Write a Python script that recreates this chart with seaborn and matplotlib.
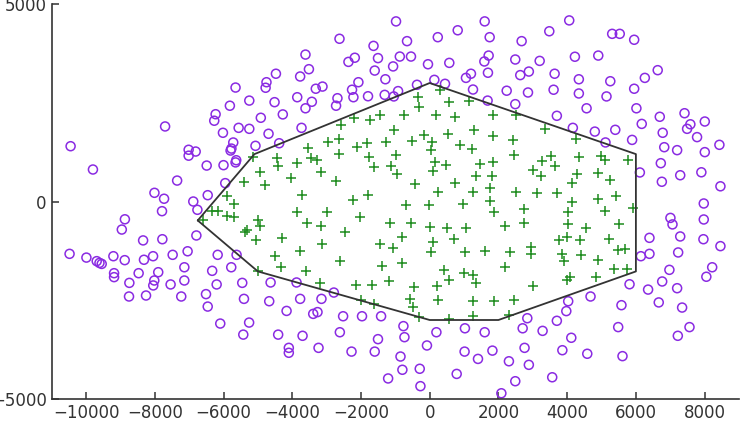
import numpy as np
import pandas as pd
import seaborn as sns
import matplotlib
matplotlib.use("Agg")
import matplotlib.pyplot as plt

# =============================
# Data
# =============================
# points outside the polygon
circle_x = [
    -10450, -9800, -7700, -7350, -8010, -7730, -7790, -8870, -6880, -6760,
    -6460, -6490, -7015, -7015, -6810, -6000, -5950, -5650, -5630, -5795,
    -5770, -5717, -6017, -5560, -6270, -6230, -5815, -5650, -5250, -5250,
    -8960, -8340, -7780, -6790, -10480, -9990, -9690, -9610, -9545, -9205,
    -8875, -8315, -8050, -7480, -7045, -6170, -5620, -5775, -6330, -7140,
    -7900, -8470, -9185, -9185, -8740, -8015, -8045, -7540, -7140, -6200,
    -5455, -8750, -8255, -7230, -6510, -6460, -5405, -6095, -5255, -5425,
    -980, -2625, -3615, -3515, -4475, -4750, -4775, -3770, -4515, -4915,
    -4275, -4690, -5070, -4380, -3855, -3430, -3615, -3315, -3120, -3730,
    -2685, -2725, -2365, -2180, -2260, -2220, -2075, -1795, -1635, -1505,
    -1600, -1290, -1065, -1310, -1045, -920, -870, -660, -545, -370,
    -50, 135, 445, 235, 570, 815, 1055, 1200, 1260, 1590,
    1695, 1600, 1745, 1715, 1685,
    2675, 3480, 4060, 2490, 3200, 2635, 2885, 2240, 2860, 2490,
    3635, 3605, 4225, 4340, 4340, 4905, 5255, 5145, 4565, 3700,
    4165, 4805, 5400, 5115, 5890, 5310, 5530, 5950, 6635, 6260,
    5950, 6015, 6170, 6695, 6780, 6825, 7200, 7415, 7585, 7490,
    8005, 7780, 8005, 8430, 6725, 6755, 7290, 7905, 8460, 6115,
    7975,
    7005, 7065, 7975, 7965, 8460, 7290, 6395, 6395, 6145, 7230,
    8220, 8050, 6975, 6765, 6355, 7200, 6665, 7345, 7560, 7220,
    5815, 5580, 5485, 5610, 4680, 4030, 3975, 3700, 4120, 3860,
    4585, 3285, 2840, 2705, 2760, 2885, 3565, 2305, 1825, 2490,
    2085,
    -4630, -4670, -3875, -3770, -4165, -3150, -2790, -3390, -3265, -2520,
    -1970, -1415, -4410, -3700, -2615, -4100, -4100, -3235, -2275, -1600,
    -1505, -765, -735, -850, -795, -290, -1210, -270, -80, 195,
    1025, 1600, 1015, 1405, 785,
]
circle_y = [
    1400, 810, 1900, 530, 220, 70, -245, -450, 0, -210,
    160, 910, 1310, 1160, 1265, 920, 465, 990, 1045, 1290,
    1340, 1494, 1740, 1865, 2045, 2210, 2425, 2885, 2555, 1840,
    -710, -985, -955, -860, -1325, -1420, -1510, -1555, -1580, -1385,
    -1485, -1475, -1385, -1350, -1260, -1350, -1350, -1665, -1755, -1665,
    -1790, -1815, -1815, -1915, -2060, -2000, -2125, -2100, -2000, -2100,
    -2060, -2405, -2380, -2405, -2345, -2660, -2465, -3090, -3065, -3370,
    4560, 4120, 3720, 3350, 3235, 3020, 2880, 3165, 2515, 2120,
    2205, 1715, 1410, 1475, 2640, 2525, 2360, 2855, 2910, 1865,
    2615, 2425, 3535, 3640, 2830, 2640, 3020, 2665, 3940, 3630,
    3315, 3095, 3420, 2700, 2660, 2795, 3670, 4060, 3670, 2955,
    3475, 3080, 2980, 4160, 3510, 4335, 3130, 3235, 2835, 3545,
    3260, 4560, 4160, 3695, 2555,
    4060, 4310, 4585, 3595, 3560, 3200, 3290, 2805, 2760, 2465,
    3235, 2830, 3665, 3095, 2735, 3695, 3045, 2660, 2360, 2170,
    1865, 1770, 1815, 1495, 1560, 4245, 4245, 4095, 3325, 3130,
    2855, 2360, 1965, 2145, 1740, 1375, 1300, 2235, 1955, 1840,
    2025, 1630, 1250, 1435, 970, 500, 665, 740, 385, 735,
    -50,
    -415, -580, -455, -955, -1130, -885, -920, -1325, -1385, -1290,
    -1665, -1905, -1730, -2025, -2230, -2195, -2555, -2685, -3180, -3400,
    -2095, -2625, -3180, -3915, -2405, -2525, -2775, -3020, -3450, -3765,
    -3855, -3275, -2955, -3210, -3705, -4135, -4450, -4045, -3775, -4550,
    -4855,
    -2050, -2525, -2050, -2465, -2770, -2465, -2305, -2845, -2800, -2905,
    -2905, -2905, -3370, -3400, -3310, -3705, -3830, -3705, -3800, -3800,
    -3485, -3155, -3435, -3925, -4260, -4235, -4480, -4675, -3645, -3310,
    -3210, -3310, -3800, -3985, -4365,
]

# points inside the polygon
plus_x = [
    -2567, -2645, -2974, -3538, -2645, -3459, -3294, -4456, -4427, -5137,
    -3875, -3169, -4942, -4041, -5398, -4797, -2733, -3712, -5910, -5689,
    -2209, -1724, -1454, -2113, -1811, -1765, -1628, -1259, -1047, -988,
    -1113, -951, -747, -340, -320, -503, -174, 78, 49, 145,
    96, 465, 195, 291, 561, 727, 532, 872, 1241, 1288,
    1142, 1840, 1840, 1454, 1358, 1802, 1840, -436, 241, 727,
    1259, 1744, 1744, 968, -20, -677, -1794, -2230, -3875, -2986,
    -2035, -4991, 1860,
    2520, 3343, 2427, 4244, 2456, 3265, 3538, 3634, 3015, 3236,
    4352, 4991, 5087, 5765, 4273, 4128, 4893, 5233, 5427, 4893,
    4154, 2500, 3110, 3692, 4020, 5087, 5910, 2733,
    2180, 2733, 4012, 4555, 5494, 3750, 3983, 4361, 5204, 1599,
    2340, 2951, 2951, 3852, 3910, 4410, 4904, 5474, 5683, 2180,
    5363, 5733, 3983, 4093, 4840, 3015, 1866, 2456, 2302,
    -1163, -552, 0, 509, 1067, -2471, -794, -1445, -1076, 108,
    703, 49, 1038, -2616, -1375, -820, 416, 561, 1009, 1259,
    1337, -2151, -1680, -1192, -445, 224, -581, -474, 233, 1270,
    -1985, -1608, -311, 561, 1259,
    -6346, -6172, -6590, -5910, -5683, -4942, -5378, -5320, -5067, -4294,
    -3581, -3154, -3148, -3773, -4506, -4323, -3605, -5000, -3198,
]
plus_y = [
    1932, 1577, 1494, 1360, 1215, 1089, 1063, 1106, 904, 1122,
    980, 752, 752, 600, 499, 430, 514, 160, 144, -51,
    2119, 2076, 2195, 1375, 1486, 1139, 868, 1519, 1823, 1165,
    894, 701, 2178, 2641, 2405, 1527, 1689, 1501, 1309, 995,
    785, 929, 2195, 2811, 2514, 2134, 1714, 1443, 1334, 1815,
    2532, 2195, 1671, 955, 658, 658, 995, 448, 253, 463,
    253, 342, 25, -58, -84, -101, 170, 43, -261, -261,
    -380, -456, -266,
    2190, 1848, 1545, 1583, 1177, 1038, 1147, 904, 798, 653,
    1139, 1160, 1058, 1051, 684, 461, 727, 532, 139, 76,
    -20, 248, 210, 210, -271, -246, -160, -185,
    -608, -549, -582, -666, -582, -987, -886, -962, -955, -1258,
    -1291, -1157, -1324, -1334, -1512, -1342, -1486, -1233, -1208, -1664,
    -1704, -1704, -1975, -1917, -1917, -2127, -2524, -2499, -2879,
    -549, -549, -633, -666, -666, -777, -886, -1071, -1165, -1013,
    -950, -1291, -1284, -1501, -1633, -1557, -1739, -1983, -1798, -1853,
    -2064, -2102, -2102, -2021, -2170, -2127, -2464, -2676, -2499, -2514,
    -2489, -2590, -2912, -2975, -2904,
    -246, -246, -468, -367, -387, -608, -777, -717, -987, -919,
    -549, -608, -1071, -1258, -1372, -1664, -1760, -1747, -2051,
]

# polygon (closed)
hull_x = [-6750, -5100, 0, 6000, 6000, 2000, 0, -5000, -6750]
hull_y = [-480, 1200, 3000, 1200, -1770, -3000, -3000, -1770, -480]

x_ticks = [-10000, -8000, -6000, -4000, -2000, 0, 2000, 4000, 6000, 8000]
y_ticks = [-5000, 0, 5000]

outside = pd.DataFrame({"x": circle_x, "y": circle_y})
inside = pd.DataFrame({"x": plus_x, "y": plus_y})

# =============================
# Plot
# =============================
sns.set_style("ticks")
plt.rcParams["font.family"] = ["DejaVu Sans"]

fig = plt.figure(figsize=(7.46, 4.32), dpi=100)
ax = fig.add_axes([0.0693, 0.0764, 0.9213, 0.9143])

sns.scatterplot(data=outside, x="x", y="y", ax=ax, marker="o", s=42,
                facecolor="none", edgecolor="#8a2be2", linewidth=1.1)
sns.scatterplot(data=inside, x="x", y="y", ax=ax, marker="+", s=42,
                color="#1e8c1e", linewidth=1.1)
ax.plot(hull_x, hull_y, color="#333333", linewidth=1.3)

ax.set_xlim(-11000, 9000)
ax.set_ylim(-5000, 5000)
ax.set_xticks(x_ticks)
ax.set_yticks(y_ticks)
ax.set_xlabel("")
ax.set_ylabel("")

sns.despine(ax=ax)
for side in ["left", "bottom"]:
    ax.spines[side].set_color("#333333")
    ax.spines[side].set_linewidth(1.2)
ax.tick_params(direction="in", length=5, width=1.1, color="#333333",
               labelsize=12, labelcolor="#333333")

fig.savefig("out.png", dpi=100)
